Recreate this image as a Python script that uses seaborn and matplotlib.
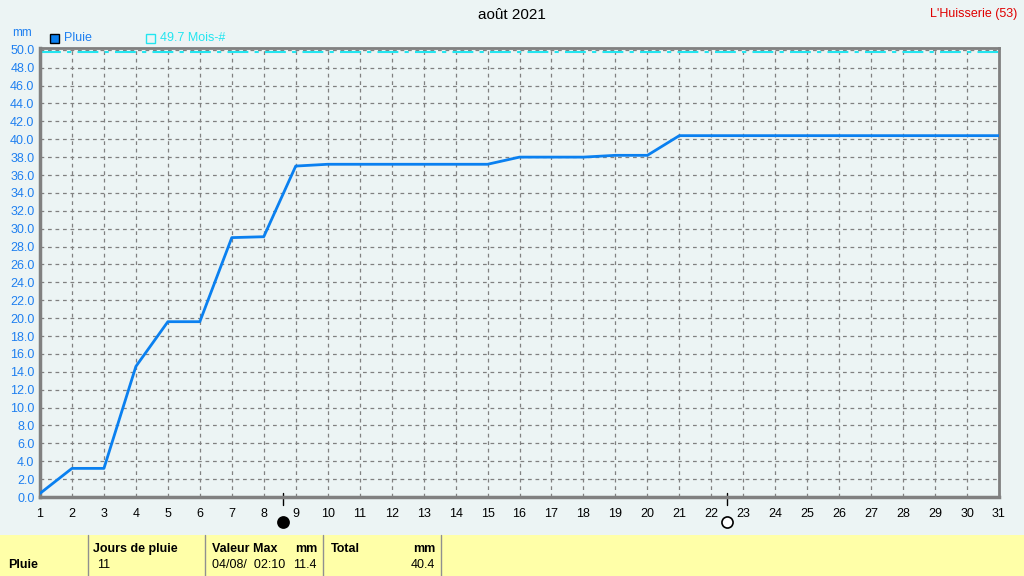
import seaborn as sns
import matplotlib.pyplot as plt
import matplotlib.transforms as mtrans
from matplotlib.patches import Rectangle
import pandas as pd

# data
days = list(range(1, 32))
pluie_cumul = [0.4, 3.2, 3.2, 14.6, 19.6, 19.6, 29.0, 29.1, 37.0, 37.2,
               37.2, 37.2, 37.2, 37.2, 37.2, 38.0, 38.0, 38.0, 38.2, 38.2,
               40.4, 40.4, 40.4, 40.4, 40.4, 40.4, 40.4, 40.4, 40.4, 40.4, 40.4]
mois_ref = 49.7
moon_days = [8.6, 22.5]           # nouvelle lune, pleine lune
moon_fill = ['black', 'white']
yticks = [i * 2.0 for i in range(26)]

df = pd.DataFrame({'jour': days, 'pluie': pluie_cumul})

bg = '#ECF4F4'
sns.set_style('white')
plt.rcParams['font.family'] = ['Liberation Sans', 'DejaVu Sans']
plt.rcParams['text.color'] = 'black'
plt.rcParams['xtick.color'] = 'black'
fs = 9

fig = plt.figure(figsize=(10.24, 5.76), dpi=100, facecolor=bg)
ax = fig.add_axes([40 / 1024, 1 - 497 / 576, 959 / 1024, 449 / 576])
ax.set_facecolor(bg)

sns.lineplot(data=df, x='jour', y='pluie', color='#0A80F0', linewidth=2.0, ax=ax, zorder=3)
ax.axhline(mois_ref, color='#22E5F0', linewidth=1.5, dashes=(10, 3, 2, 3))

ax.set_xlim(1, 31)
ax.set_ylim(0, 50.2)
ax.set_xticks(days)
ax.set_yticks(yticks)
ax.set_yticklabels([f'{v:.1f}' for v in yticks], color='#1E7FF0', fontsize=fs)
ax.tick_params(axis='x', labelsize=fs, length=0, pad=8, labelcolor='black')
ax.tick_params(axis='y', length=3, width=1, color='#808080', pad=1)
ax.grid(True, color='#808080', linestyle=(0, (3, 3)), linewidth=0.9)
ax.set_xlabel('')
ax.set_ylabel('')
for side in ['left', 'bottom']:
    ax.spines[side].set_color('#808080')
    ax.spines[side].set_linewidth(2.5)
for side in ['top', 'right']:
    ax.spines[side].set_color('#808080')
    ax.spines[side].set_linewidth(2)

# lune
tr = mtrans.blended_transform_factory(ax.transData, ax.transAxes)
for d, f in zip(moon_days, moon_fill):
    ax.plot([d, d], [0.009, -0.018], color='black', lw=1, transform=tr, clip_on=False)
    ax.plot([d], [-0.056], marker='o', markersize=8, markerfacecolor=f,
            markeredgecolor='black', markeredgewidth=1.2, transform=tr, clip_on=False)

# titres
fig.text(0.5, 1 - 15 / 576, 'août 2021', ha='center', va='center', fontsize=11)
fig.text(1017 / 1024, 1 - 14 / 576, "L'Huisserie (53)", ha='right', va='center',
         fontsize=fs, color='#E00000')
fig.text(22 / 1024, 1 - 33 / 576, 'mm', ha='center', va='center', fontsize=8.5, color='#1E7FF0')

# legende
fig.patches.append(Rectangle((50 / 1024, 1 - 43 / 576), 9 / 1024, 9 / 576,
                             transform=fig.transFigure, facecolor='#0A80F0',
                             edgecolor='black', linewidth=1))
fig.text(64 / 1024, 1 - 38 / 576, 'Pluie', va='center', fontsize=fs, color='#1E7FF0')
fig.patches.append(Rectangle((146 / 1024, 1 - 43 / 576), 9 / 1024, 9 / 576,
                             transform=fig.transFigure, facecolor='none',
                             edgecolor='#22E5F0', linewidth=1))
fig.text(160 / 1024, 1 - 38 / 576, f'{mois_ref} Mois-#', va='center', fontsize=fs,
         color='#22E5F0')

# tableau du bas
fig.patches.append(Rectangle((0, 0), 1, 41 / 576, transform=fig.transFigure,
                             facecolor='#FFFFA8', edgecolor='none'))
for xv in [88, 205, 323, 441]:
    fig.add_artist(plt.Line2D([xv / 1024, xv / 1024], [0, 41 / 576],
                              transform=fig.transFigure, color='#909090', lw=1))
r1 = 1 - 549 / 576
r2 = 1 - 565 / 576
fig.text(8 / 1024, r2, 'Pluie', va='center', fontsize=fs, fontweight='bold')
fig.text(93 / 1024, r1, 'Jours de pluie', va='center', fontsize=fs, fontweight='bold')
fig.text(97 / 1024, r2, '11', va='center', fontsize=fs)
fig.text(212 / 1024, r1, 'Valeur Max', va='center', fontsize=fs, fontweight='bold')
fig.text(317 / 1024, r1, 'mm', ha='right', va='center', fontsize=fs, fontweight='bold')
fig.text(212 / 1024, r2, '04/08/  02:10', va='center', fontsize=fs)
fig.text(317 / 1024, r2, '11.4', ha='right', va='center', fontsize=fs)
fig.text(331 / 1024, r1, 'Total', va='center', fontsize=fs, fontweight='bold')
fig.text(435 / 1024, r1, 'mm', ha='right', va='center', fontsize=fs, fontweight='bold')
fig.text(435 / 1024, r2, '40.4', ha='right', va='center', fontsize=fs)

fig.savefig('out.png', dpi=100, facecolor=bg)
